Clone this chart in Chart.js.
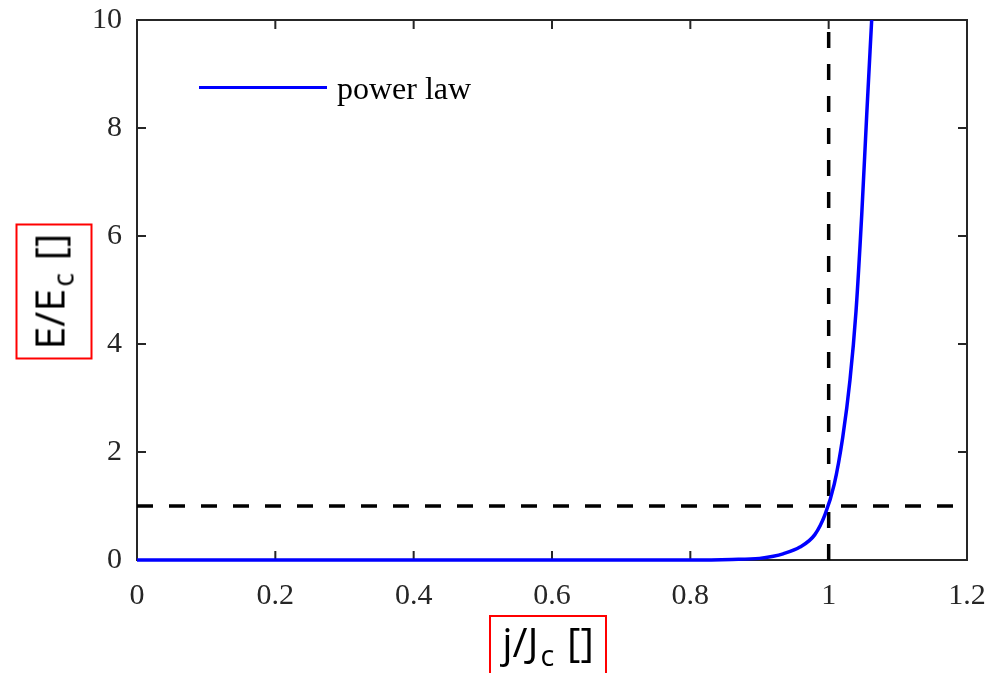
<!DOCTYPE html>
<html>
<head>
<meta charset="utf-8">
<script src="https://cdn.jsdelivr.net/npm/chart.js@4.4.0/dist/chart.umd.min.js"></script>
<style>
  body { margin: 0; background: #fff; }
  #wrap { position: relative; width: 1004px; height: 673px; overflow: hidden; }
  .axisTitle {
    position: absolute; box-sizing: border-box; border: 2px solid #f00;
    font-family: 'Open Sans', sans-serif; font-size: 41px; color: #000;
    display: flex; align-items: center; justify-content: center; white-space: nowrap;
  }
  .axisTitle span { position: relative; }
  .axisTitle sub { font-size: 0.7em; vertical-align: -0.32em; margin-left: 2px; margin-right: 2px; line-height: 0; }
  #yTitle { left: -14.5px; top: 252.5px; width: 136px; height: 77px; transform: rotate(-90deg); }
  #yTitle span { top: -6px; }
  #xTitle { left: 489px; top: 615px; width: 118px; height: 70px; align-items: flex-start; }
  #xTitle span { top: -4px; }
  #legLine { position: absolute; left: 199px; top: 85.5px; width: 128px; height: 3px; background: #0000ff; }
  #legText { position: absolute; left: 337px; top: 72px; font-family: 'Liberation Serif', 'Times New Roman', serif;
    font-size: 32px; line-height: 32px; color: #000; white-space: nowrap; }
</style>
</head>
<body>
<div id="wrap">
  <canvas id="chart" width="1004" height="673"></canvas>
  <div id="yTitle" class="axisTitle"><span>E/E<sub>c</sub> []</span></div>
  <div id="xTitle" class="axisTitle"><span>j/J<sub>c</sub> []</span></div>
  <div id="legLine"></div>
  <div id="legText">power law</div>
</div>
<script>
// values
const powerX = [0, 0.2, 0.4, 0.6, 0.8, 0.86, 0.9, 0.92, 0.934, 0.9585, 0.98, 0.9947, 1.008, 1.0203, 1.0308, 1.0395, 1.0478, 1.055, 1.0622];
const powerY = [0, 0, 0, 0, 0, 0.01, 0.03, 0.07, 0.115, 0.24, 0.47, 0.84, 1.4, 2.27, 3.33, 4.6, 6.39, 8.24, 10];
const vLineX = [1, 1];
const vLineY = [0, 10];
const hLineX = [0, 1.2];
const hLineY = [1, 1];
const xTicks = [0, 0.2, 0.4, 0.6, 0.8, 1, 1.2];
const yTicks = [0, 2, 4, 6, 8, 10];

const toPoints = (xs, ys) => xs.map((x, i) => ({ x: x, y: ys[i] }));

const axisColor = '#262626';
const tickFont = { family: "'Liberation Serif', 'Times New Roman', serif", size: 30 };

// MATLAB style box with inward ticks
const boxPlugin = {
  id: 'box',
  beforeDatasetsDraw(chart) {
    const { ctx, chartArea: a, scales } = chart;
    const len = 9;
    ctx.save();
    ctx.strokeStyle = axisColor;
    ctx.lineWidth = 2;
    ctx.beginPath();
    xTicks.forEach(v => {
      const px = scales.x.getPixelForValue(v);
      ctx.moveTo(px, a.bottom); ctx.lineTo(px, a.bottom - len);
      ctx.moveTo(px, a.top); ctx.lineTo(px, a.top + len);
    });
    yTicks.forEach(v => {
      const py = scales.y.getPixelForValue(v);
      ctx.moveTo(a.left, py); ctx.lineTo(a.left + len, py);
      ctx.moveTo(a.right, py); ctx.lineTo(a.right - len, py);
    });
    ctx.stroke();
    ctx.strokeRect(a.left, a.top, a.right - a.left, a.bottom - a.top);
    ctx.restore();
  }
};

new Chart(document.getElementById('chart'), {
  type: 'line',
  data: {
    datasets: [
      {
        label: 'power law',
        data: toPoints(powerX, powerY),
        borderColor: '#0000ff',
        borderWidth: 3.5,
        pointRadius: 0,
        cubicInterpolationMode: 'monotone',
        clip: false
      },
      {
        data: toPoints(vLineX, vLineY),
        borderColor: '#000',
        borderWidth: 3.5,
        borderDash: [16, 16],
        pointRadius: 0
      },
      {
        data: toPoints(hLineX, hLineY),
        borderColor: '#000',
        borderWidth: 3.5,
        borderDash: [16, 16],
        pointRadius: 0
      }
    ]
  },
  options: {
    responsive: false,
    animation: false,
    layout: { padding: { top: 20, right: 37, left: 0, bottom: 0 } },
    plugins: { legend: { display: false }, tooltip: { enabled: false } },
    scales: {
      x: {
        type: 'linear', min: 0, max: 1.2,
        afterFit: s => { s.height = 113; s.paddingLeft = 0; s.paddingRight = 0; },
        afterBuildTicks: s => { s.ticks = xTicks.map(v => ({ value: v })); },
        grid: { display: false, drawTicks: false },
        border: { display: false },
        ticks: { font: tickFont, color: axisColor, padding: 18, maxRotation: 0,
          callback: v => String(Number(v.toFixed(1))) }
      },
      y: {
        type: 'linear', min: 0, max: 10,
        afterFit: s => { s.width = 137; s.paddingTop = 0; s.paddingBottom = 0; },
        afterBuildTicks: s => { s.ticks = yTicks.map(v => ({ value: v })); },
        grid: { display: false, drawTicks: false },
        border: { display: false },
        ticks: { font: tickFont, color: axisColor, padding: 15,
          callback: v => String(v) }
      }
    }
  },
  plugins: [boxPlugin]
});
</script>
</body>
</html>
